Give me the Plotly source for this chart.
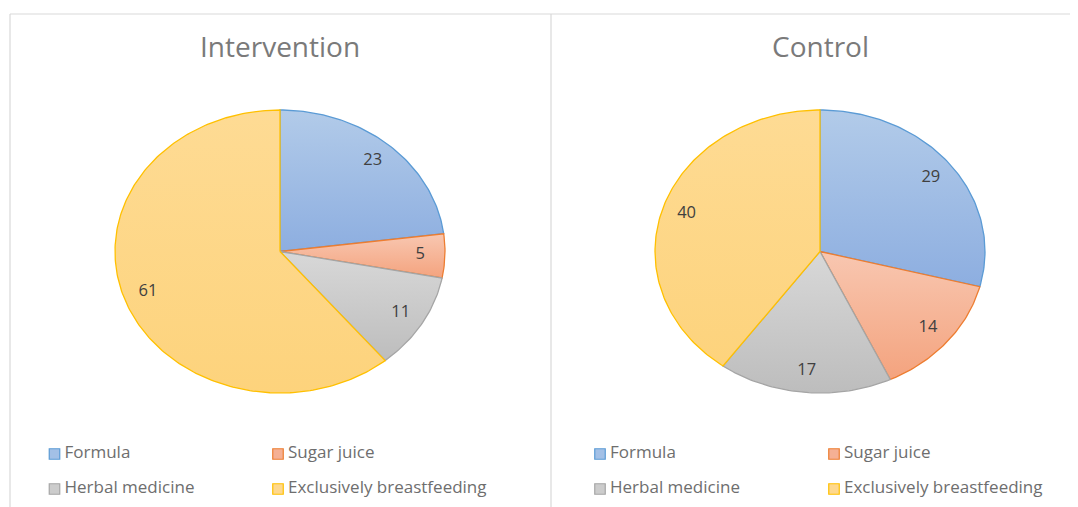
import numpy as np
import plotly.graph_objects as go

# ---------------- data ----------------
categories = ["Formula", "Sugar juice", "Herbal medicine", "Exclusively breastfeeding"]
intervention_values = [23, 5, 11, 61]
control_values = [29, 14, 17, 40]
panel_titles = ["Intervention", "Control"]

# ---------------- style ----------------
OFF = 8                      # page body margin of the html page
W, H = 1078 - OFF, 507 - OFF
edge_colors = ["#5b9bd5", "#ed7d31", "#a5a5a5", "#ffc000"]
grad_top = ["#b2cbe9", "#f8c7b1", "#d8d8d8", "#fedb94"]
grad_bottom = ["#8daee0", "#f4a37e", "#bdbdbd", "#fdd37c"]
legend_colors = ["#a3c0e6", "#f5b094", "#cccccc", "#fed88e"]
title_color = "#7a7a7a"
label_color = "#404040"
legend_text_color = "#6e6e6e"
FONT = "Open Sans"


def px(x):
    return x - OFF


# pie geometry in screen pixels (center x, center y, rx, ry)
pies = [(280, 251.5, 165, 141.5), (820, 251.5, 165, 141.5)]
PAD = 1.08
LABEL_R = 0.85

fig = go.Figure()
layout_axes = {}

for p, (vals, (cx, cy, rx, ry)) in enumerate(zip([intervention_values, control_values], pies)):
    cx, cy = px(cx), px(cy)
    ax = "" if p == 0 else str(p + 1)
    xdom = [(cx - PAD * rx) / W, (cx + PAD * rx) / W]
    ydom = [(H - (cy + PAD * ry)) / H, (H - (cy - PAD * ry)) / H]
    layout_axes["xaxis" + ax] = dict(domain=xdom, range=[-PAD, PAD], visible=False,
                                     fixedrange=True, autorange=False)
    layout_axes["yaxis" + ax] = dict(domain=ydom, range=[-PAD, PAD], visible=False,
                                     fixedrange=True, autorange=False)
    total = float(sum(vals))
    cum = 0.0
    lx, ly, lt = [], [], []
    for i, v in enumerate(vals):
        a0 = cum / total
        a1 = (cum + v) / total
        cum += v
        n = max(int((a1 - a0) * 360), 2) + 1
        th = np.linspace(2 * np.pi * a0, 2 * np.pi * a1, n)
        xs = np.concatenate([[0], np.sin(th), [0]])
        ys = np.concatenate([[0], np.cos(th), [0]])
        fig.add_trace(go.Scatter(
            x=xs, y=ys, mode="lines", fill="toself",
            line=dict(color=edge_colors[i], width=1.3),
            fillgradient=dict(type="vertical",
                              colorscale=[[0, grad_bottom[i]], [1, grad_top[i]]]),
            name=categories[i], showlegend=False, hoverinfo="name",
            xaxis="x" + ax, yaxis="y" + ax))
        mid = np.pi * (a0 + a1)
        lx.append(LABEL_R * np.sin(mid))
        ly.append(LABEL_R * np.cos(mid))
        lt.append(str(v))
    fig.add_trace(go.Scatter(
        x=lx, y=ly, mode="text", text=lt,
        textfont=dict(family=FONT, size=16.5, color=label_color),
        showlegend=False, hoverinfo="skip", xaxis="x" + ax, yaxis="y" + ax))

# ---------------- legends (overlay axis in pixel space) ----------------
layout_axes["xaxis3"] = dict(domain=[0, 1], range=[0, W], visible=False, fixedrange=True, autorange=False)
layout_axes["yaxis3"] = dict(domain=[0, 1], range=[H, 0], visible=False, fixedrange=True, autorange=False)

legend_cols = [[54.5, 278], [600, 834]]
legend_rows = [454, 489]
TEXT_GAP = 10
for p in range(2):
    for i, cat in enumerate(categories):
        r, c = divmod(i, 2)
        x0, y0 = px(legend_cols[p][c]), px(legend_rows[r])
        fig.add_trace(go.Scatter(
            x=[x0], y=[y0], mode="markers",
            marker=dict(symbol="square", size=10.5, color=legend_colors[i],
                        line=dict(color=edge_colors[i], width=1.2)),
            showlegend=False, hoverinfo="skip", cliponaxis=False,
            xaxis="x3", yaxis="y3"))
        fig.add_trace(go.Scatter(
            x=[x0 + TEXT_GAP], y=[y0], mode="text",
            text=[cat], textposition="middle right",
            textfont=dict(family=FONT, size=17, color=legend_text_color),
            showlegend=False, hoverinfo="skip", cliponaxis=False,
            xaxis="x3", yaxis="y3"))

# ---------------- titles ----------------
annotations = []
for p, t in enumerate(panel_titles):
    annotations.append(dict(
        text=t, x=px(pies[p][0]) / W, y=1 - px(46) / H, xref="paper", yref="paper",
        xanchor="center", yanchor="middle", showarrow=False,
        font=dict(family=FONT, size=28, color=title_color)))

# ---------------- frame lines ----------------
line_col = "#d9d9d9"
top_y = 1 - px(14) / H
shapes = [
    dict(type="line", xref="paper", yref="paper", x0=px(10) / W, x1=1, y0=top_y, y1=top_y,
         line=dict(color=line_col, width=1.2)),
    dict(type="line", xref="paper", yref="paper", x0=px(10) / W, x1=px(10) / W, y0=0, y1=top_y,
         line=dict(color=line_col, width=1.2)),
    dict(type="line", xref="paper", yref="paper", x0=px(551) / W, x1=px(551) / W, y0=0, y1=top_y,
         line=dict(color=line_col, width=1.2)),
]

fig.update_layout(
    width=W, height=H,
    margin=dict(l=0, r=0, t=0, b=0),
    paper_bgcolor="white", plot_bgcolor="rgba(0,0,0,0)",
    showlegend=False,
    annotations=annotations, shapes=shapes,
    **layout_axes,
)

fig.write_html("out.html")
